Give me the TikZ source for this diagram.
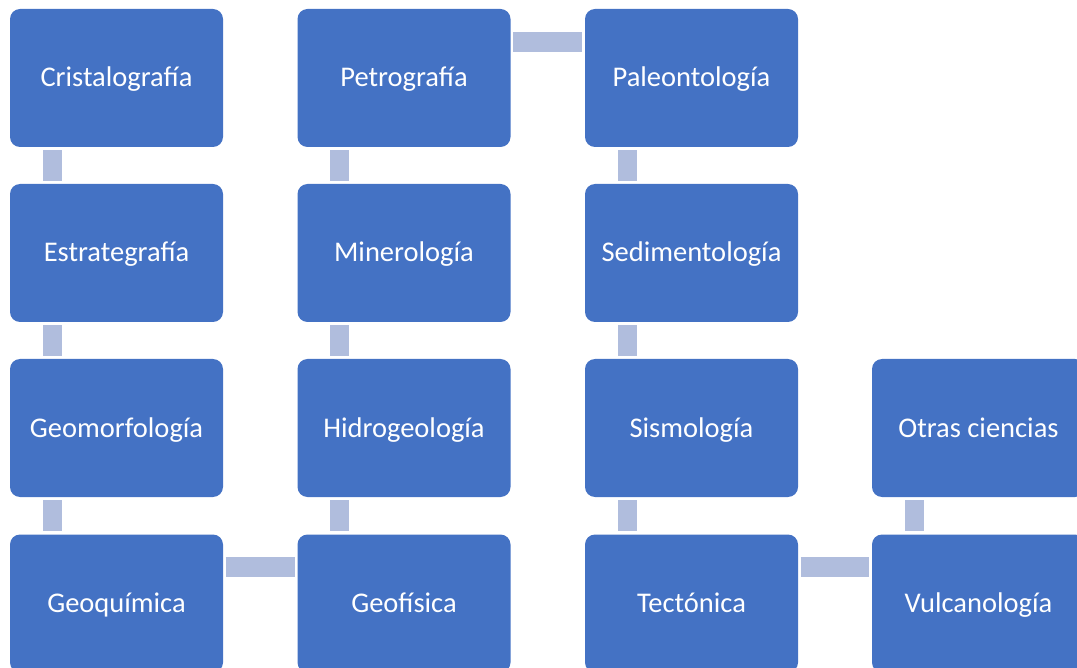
\documentclass[tikz,border=0pt]{standalone}
\usepackage{fontspec}
\setmainfont{Carlito}
\definecolor{boxblue}{RGB}{68,114,196}
\definecolor{connblue}{RGB}{176,189,221}
\tikzset{
  box/.style={rectangle, rounded corners=10pt, fill=boxblue, draw=none,
    minimum width=213pt, minimum height=138pt, inner sep=0pt,
    text height=22pt, text depth=4pt,
    text=white, font=\fontsize{28.5}{34}\selectfont},
  vconn/.style={draw=connblue, line width=19pt, shorten <=3pt, shorten >=3pt},
  hconn/.style={draw=connblue, line width=20pt, shorten <=2.5pt, shorten >=2.5pt}
}
\begin{document}
\begin{tikzpicture}[x=1pt,y=-1pt]
\useasboundingbox (0,0) rectangle (1077,668);
\clip (0,0) rectangle (1077,668);
% column 1
\node[box] (cri) at (116.5,78) {Cristalografía};
\node[box] (est) at (116.5,253) {Estrategrafía};
\node[box] (geom) at (116.5,428) {Geomorfología};
\node[box] (geoq) at (116.5,603.5) {Geoquímica};
% column 2
\node[box] (pet) at (404,78) {Petrografía};
\node[box] (min) at (404,253) {Minerología};
\node[box] (hid) at (404,428) {Hidrogeología};
\node[box] (geof) at (404,603.5) {Geofísica};
% column 3
\node[box] (pal) at (691.5,78) {Paleontología};
\node[box] (sed) at (691.5,253) {Sedimentología};
\node[box] (sis) at (691.5,428) {Sismología};
\node[box] (tec) at (691.5,603.5) {Tectónica};
% column 4
\node[box] (otr) at (978.5,428) {Otras ciencias};
\node[box] (vul) at (978.5,603.5) {Vulcanología};
% vertical connectors
\foreach \a/\b in {cri/est, est/geom, geom/geoq, pet/min, min/hid, hid/geof, pal/sed, sed/sis, sis/tec, otr/vul}
  \draw[vconn] ([xshift=42.5pt]\a.south west) -- ([xshift=42.5pt]\b.north west);
% horizontal connectors
\draw[hconn] ([yshift=-33pt]geoq.north east) -- ([yshift=-33pt]geof.north west);
\draw[hconn] ([yshift=-33pt]pet.north east) -- ([yshift=-33pt]pal.north west);
\draw[hconn] ([yshift=-33pt]tec.north east) -- ([yshift=-33pt]vul.north west);
\end{tikzpicture}
\end{document}
